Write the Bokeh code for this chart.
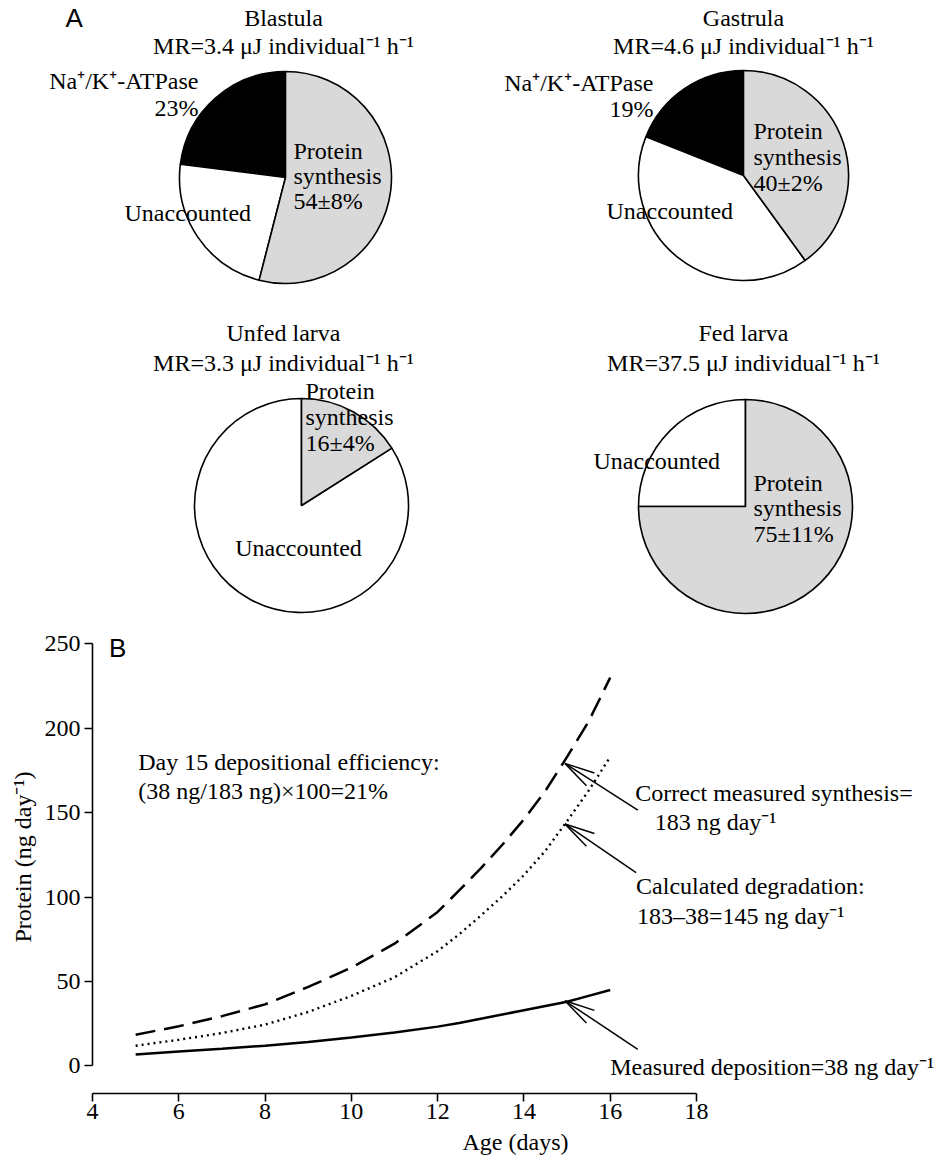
import numpy as np
from bokeh.plotting import figure
from bokeh.layouts import column, row
from bokeh.models import ColumnDataSource, Range1d, FixedTicker
from bokeh.core.properties import value
from bokeh.embed import file_html
from bokeh.resources import INLINE

# ---------------- Panel A data (percent of metabolic rate) ----------------
slice_names = ["Na⁺/K⁺-ATPase", "Unaccounted", "Protein synthesis"]
slice_colors = ["#000000", "#ffffff", "#d9d9d9"]
stages = ["Blastula", "Gastrula", "Unfed larva", "Fed larva"]
metabolic_rate = ["3.4", "4.6", "3.3", "37.5"]
blastula_pct = [23, 23, 54]
gastrula_pct = [19, 41, 40]
unfed_pct = [0, 84, 16]
fed_pct = [0, 25, 75]
protein_err = [8, 2, 4, 11]

# ---------------- Panel B data ----------------
age_days = [5, 6, 7, 8, 9, 10, 11, 12, 12.5, 13, 13.5, 14, 14.5, 15, 15.5, 16]
synthesis = [18.5, 23.5, 29.5, 36.5, 46.8, 58.2, 72.4, 91.2, 104, 117, 131, 146, 163, 183, 204, 230]
degradation = [12, 15.5, 19.5, 24.5, 32, 41.5, 52.5, 68, 78, 89, 100.5, 113, 127.5, 145, 163, 183]
deposition = [6.8, 8.5, 10.2, 12, 14.2, 16.8, 19.8, 23.3, 25.5, 28, 30.5, 33, 35.5, 38, 41.5, 45]

SERIF = value("Liberation Serif")
SANS = value("Liberation Sans")
FS = "24px"


def pie_fig(w, h, cx, cy, r, pct, labels):
    p = figure(width=w, height=h, x_range=Range1d(-cx, w - cx), y_range=Range1d(-(h - cy), cy),
               min_border=0, toolbar_location=None, output_backend="svg",
               x_axis_location=None, y_axis_location=None)
    p.grid.visible = False
    p.outline_line_color = None
    vals = np.array(pct, dtype=float)
    ang = vals / vals.sum() * 2 * np.pi
    end = np.pi / 2 + np.cumsum(ang)
    start = end - ang
    keep = vals > 0
    src = ColumnDataSource(dict(start=start[keep], end=end[keep],
                                color=[c for c, k in zip(slice_colors, keep) if k],
                                name=[n for n, k in zip(slice_names, keep) if k]))
    p.wedge(x=0, y=0, radius=r, start_angle="start", end_angle="end", fill_color="color",
            line_color="black", line_width=1.6, source=src)
    for align in ("left", "center", "right"):
        sel = [l for l in labels if l[3] == align]
        if not sel:
            continue
        p.text(x=[l[1] for l in sel], y=[l[2] for l in sel], text=[l[0] for l in sel],
               text_align=align, text_baseline="middle", text_font=SERIF,
               text_font_size=FS, text_color="black")
    return p


def title_lines(i, dx, y1, y2):
    return [(stages[i], dx, y1, "center"),
            ("MR=" + metabolic_rate[i] + " μJ individual⁻¹ h⁻¹", dx, y2, "center")]


def prot_lines(i, pct, dx, y0, step=25):
    return [("Protein", dx, y0, "left"), ("synthesis", dx, y0 - step, "left"),
            (f"{pct}±{protein_err[i]}%", dx, y0 - 2 * step, "left")]


# Blastula
lab1 = title_lines(0, -2, 160, 132) + [
    ("Na⁺/K⁺-ATPase", -87, 97, "right"), (f"{blastula_pct[0]}%", -87, 70, "right"),
    ("Unaccounted", -161, -35, "left")] + prot_lines(0, blastula_pct[2], 8, 27)
p1 = pie_fig(469, 298, 285, 177, 106, blastula_pct, lab1)
p1.text(x=[-220], y=[160], text=["A"], text_align="left", text_baseline="middle",
        text_font=SANS, text_font_size="26px", text_color="black")

# Gastrula
lab2 = title_lines(1, 0, 158, 130) + [
    ("Na⁺/K⁺-ATPase", -90, 93, "right"), (f"{gastrula_pct[0]}%", -90, 67, "right"),
    ("Unaccounted", -137, -35, "left")] + prot_lines(1, gastrula_pct[2], 10, 45, 26)
p2 = pie_fig(469, 298, 274, 175, 105, gastrula_pct, lab2)

# Unfed larva
lab3 = title_lines(2, -18, 173, 143) + [("Unaccounted", -3, -42, "center")] + \
    prot_lines(2, unfed_pct[2], 4, 115, 26)
p3 = pie_fig(469, 322, 301, 207, 107, unfed_pct, lab3)

# Fed larva
lab4 = title_lines(3, -2, 174, 144) + [("Unaccounted", -152, 46, "left")] + \
    prot_lines(3, fed_pct[2], 8, 24, 25.5)
p4 = pie_fig(469, 322, 276, 208, 107, fed_pct, lab4)

# ---------------- Panel B ----------------
p5 = figure(width=938, height=546, x_range=Range1d(4, 23.61), y_range=Range1d(-16.3, 263.8),
            min_border_left=92, min_border_right=0, min_border_top=0, min_border_bottom=73,
            toolbar_location=None, output_backend="svg")
p5.grid.visible = False
p5.outline_line_color = None

for ax in (p5.xaxis[0], p5.yaxis[0]):
    ax.major_tick_out = 8
    ax.major_tick_in = 0
    ax.minor_tick_out = 0
    ax.minor_tick_in = 0
    ax.axis_line_width = 1.6
    ax.major_tick_line_width = 1.6
    ax.axis_line_color = "black"
    ax.major_tick_line_color = "black"
    ax.major_label_text_font = "Liberation Serif"
    ax.major_label_text_font_size = FS
    ax.major_label_text_color = "black"
    ax.axis_label_text_font = "Liberation Serif"
    ax.axis_label_text_font_size = FS
    ax.axis_label_text_font_style = "normal"
    ax.axis_label_text_color = "black"

p5.yaxis[0].ticker = FixedTicker(ticks=[0, 50, 100, 150, 200, 250])
p5.yaxis[0].bounds = (0, 250)
p5.yaxis[0].major_label_standoff = 4
p5.yaxis[0].axis_label = "Protein (ng day⁻¹)"
p5.yaxis[0].axis_label_standoff = 6

p5.xaxis[0].ticker = FixedTicker(ticks=[4, 6, 8, 10, 12, 14, 16, 18])
p5.xaxis[0].bounds = (4, 18)
p5.xaxis[0].major_label_standoff = 2
p5.xaxis[0].axis_label = "Age (days)"
p5.xaxis[0].axis_label_standoff = 7

src = ColumnDataSource(dict(age=age_days, syn=synthesis, deg=degradation, dep=deposition))
p5.line("age", "syn", source=src, line_color="black", line_width=2.5, line_dash="20 9")
p5.line("age", "deg", source=src, line_color="black", line_width=2.4, line_dash="2 4")
p5.line("age", "dep", source=src, line_color="black", line_width=2.5)

# annotation arrows (layout positions)
tip_x = [14.95, 14.95, 14.95]
tip_y = [179.2, 143.3, 38.6]
tail_x = [16.64, 16.6, 16.64]
tail_y = [151.5, 114.5, 9.9]
p5.segment(x0=tail_x, y0=tail_y, x1=tip_x, y1=tip_y, line_color="black", line_width=1.5)
p5.ray(x=tip_x * 2, y=tip_y * 2, length=31, length_units="screen",
       angle=[-18] * 3 + [-46] * 3, angle_units="deg", line_color="black", line_width=1.5)

ann_x = [5.06, 5.06, 16.58, 17.03, 16.6, 16.62, 16.0]
ann_y = [180.2, 162.8, 161.8, 144.7, 106.3, 88.9, -0.4]
ann_t = ["Day 15 depositional efficiency:",
         "(38 ng/183 ng)×100=21%",
         "Correct measured synthesis=",
         "183 ng day⁻¹",
         "Calculated degradation:",
         "183–38=145 ng day⁻¹",
         "Measured deposition=38 ng day⁻¹"]
p5.text(x=ann_x, y=ann_y, text=ann_t, text_align="left", text_baseline="middle",
        text_font=SERIF, text_font_size=FS, text_color="black")
p5.text(x=[4.38], y=[247.5], text=["B"], text_align="left", text_baseline="middle",
        text_font=SANS, text_font_size="26px", text_color="black")

layout = column(row(p1, p2), row(p3, p4), p5)
open("out.html", "w").write(file_html(layout, INLINE))
